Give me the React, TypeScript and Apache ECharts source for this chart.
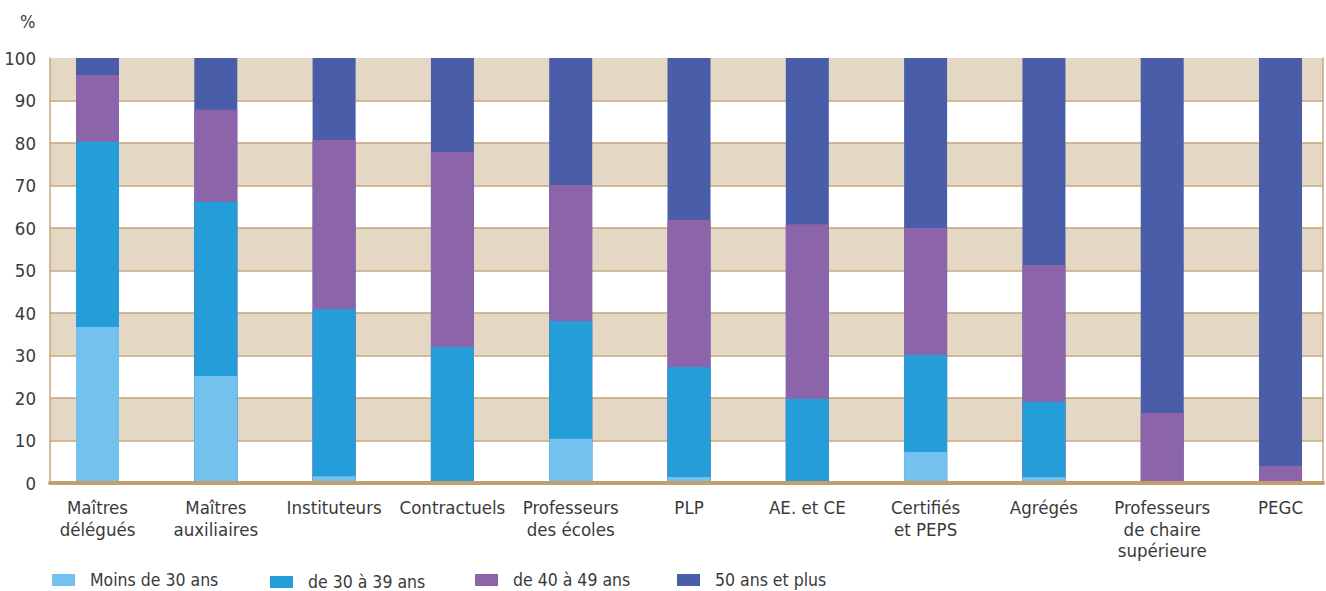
import React, { useEffect, useRef } from "react";
import * as echarts from "echarts";

const categories = [
  "Maîtres\ndélégués",
  "Maîtres\nauxiliaires",
  "Instituteurs",
  "Contractuels",
  "Professeurs\ndes écoles",
  "PLP",
  "AE. et CE",
  "Certifiés\net PEPS",
  "Agrégés",
  "Professeurs\nde chaire\nsupérieure",
  "PEGC",
];

const seriesNames = ["Moins de 30 ans", "de 30 à 39 ans", "de 40 à 49 ans", "50 ans et plus"];
const under30 = [36.7, 25.2, 1.6, 0, 10.4, 1.4, 0, 7.3, 1.4, 0, 0];
const from30to39 = [43.6, 41.0, 39.3, 32.0, 27.7, 25.9, 19.8, 22.8, 17.7, 0, 0];
const from40to49 = [15.7, 21.6, 39.8, 45.9, 32.0, 34.6, 41.1, 29.9, 32.2, 16.5, 4.0];
const over50 = [4.0, 12.2, 19.3, 22.1, 29.9, 38.1, 39.1, 40.0, 48.7, 83.5, 96.0];
const seriesColors = ["#72c2ed", "#259dd8", "#8b64a9", "#4a5da8"];
const yTicks = { min: 0, max: 100, interval: 10 };
// category positions on the x value axis (bars are not centred in the plot area)
const xRange = { min: -0.4015, max: 10.359 };

const FONT = "'DejaVu Sans Condensed', 'Liberation Sans', sans-serif";
const TEXT = "#3a3a3a";
const TAN = "#c5a57a";

export default function App() {
  const ref = useRef<HTMLDivElement>(null);
  useEffect(() => {
    if (!ref.current) return;
    const chart = echarts.init(ref.current, undefined, { renderer: "svg" });
    const values = [under30, from30to39, from40to49, over50];
    // cumulative tops of each segment (stack built by hand: value x axis)
    const cumulative = values.map((_, s) =>
      categories.map((__, k) => values.slice(0, s + 1).reduce((acc, arr) => acc + arr[k], 0))
    );
    const legendLefts = [52, 270, 475, 677];
    const legendTops = [571, 573, 571, 571];
    const idx = categories.map((_, i) => i);
    const order = [3, 2, 1, 0];
    chart.setOption({
      animation: false,
      textStyle: { fontFamily: FONT },
      graphic: [
        {
          type: "text",
          left: 20,
          top: 12,
          style: { text: "%", fontSize: 18, fontFamily: FONT, fill: TEXT },
        },
      ],
      legend: seriesNames.map((n, i) => ({
        data: [n],
        left: legendLefts[i],
        top: legendTops[i],
        padding: 0,
        itemWidth: 23,
        itemHeight: 12,
        icon: "rect",
        textStyle: { fontSize: 17.5, color: TEXT, fontFamily: FONT, padding: [0, 0, 0, 10] },
      })),
      grid: { left: 50, right: 3, top: 58, bottom: 108 },
      xAxis: {
        type: "value",
        min: xRange.min,
        max: xRange.max,
        z: 10,
        axisLine: { show: true, onZero: false, lineStyle: { color: "#c29f6d", width: 4 } },
        axisTick: { show: false },
        splitLine: { show: false },
        axisLabel: {
          customValues: idx,
          formatter: (v: number) => categories[Math.round(v)] ?? "",
          margin: 14,
          fontSize: 18.5,
          lineHeight: 21.5,
          color: TEXT,
          fontFamily: FONT,
        },
      },
      yAxis: [
        {
          type: "value",
          min: yTicks.min,
          max: yTicks.max,
          interval: yTicks.interval,
          axisLine: { show: true, onZero: false, lineStyle: { color: TAN, width: 1.5 } },
          axisTick: { show: false },
          axisLabel: { fontSize: 18.5, color: TEXT, margin: 14, fontFamily: FONT },
          splitLine: { show: true, showMaxLine: false, showMinLine: false, lineStyle: { color: TAN, width: 1.5 } },
          splitArea: { show: true, areaStyle: { color: ["#ffffff", "#e4d8c5"] } },
        },
        {
          type: "value",
          position: "right",
          min: yTicks.min,
          max: yTicks.max,
          interval: yTicks.interval,
          axisLine: { show: true, onZero: false, lineStyle: { color: TAN, width: 1.5 } },
          axisTick: { show: false },
          axisLabel: { show: false },
          splitLine: { show: false },
        },
      ],
      series: order.map((i) => ({
        name: seriesNames[i],
        type: "bar",
        barWidth: 43,
        barGap: "-100%",
        itemStyle: { color: seriesColors[i] },
        data: cumulative[i].map((v, k) => [idx[k], v]),
      })),
    });
    return () => chart.dispose();
  }, []);
  return <div ref={ref} style={{ width: 1326, height: 591, position: "absolute", left: 0, top: 0 }} />;
}
